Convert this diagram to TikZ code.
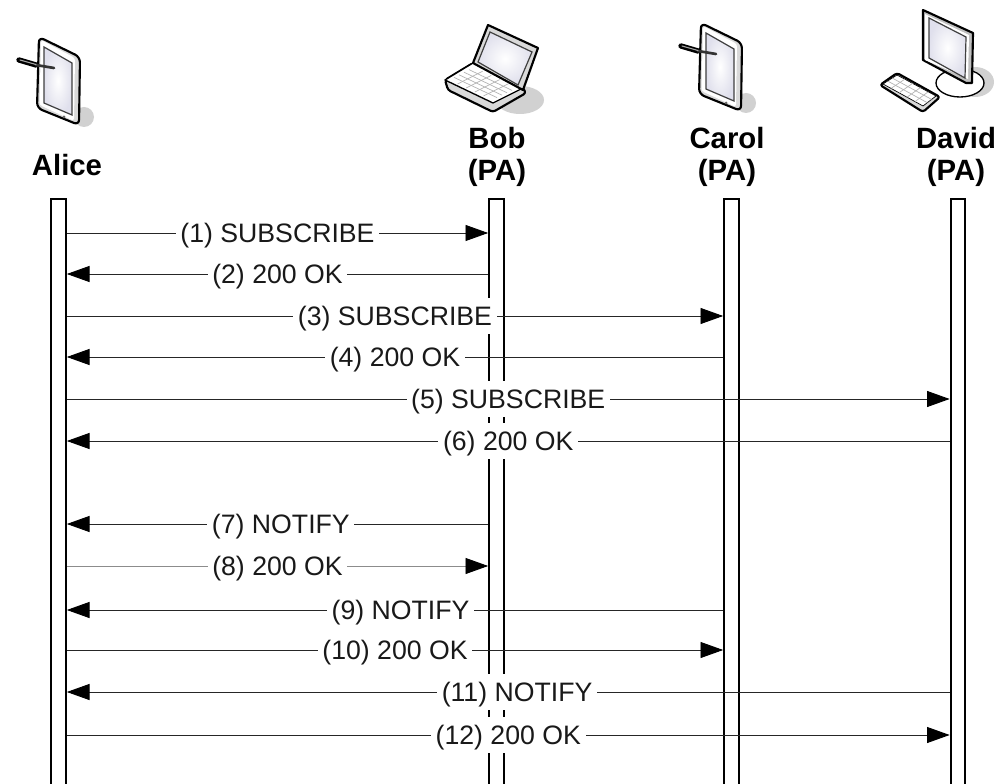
\documentclass[tikz,border=0pt]{standalone}
\usepackage{fontspec}
\setmainfont{Liberation Sans}
\usetikzlibrary{arrows.meta,positioning,calc}
\tikzset{
  lifeline/.style={draw=black,line width=1.5pt,fill=none,rectangle,anchor=north,minimum width=11pt,minimum height=480pt,inner sep=0pt},
  who/.style={font=\fontsize{22}{24}\selectfont\bfseries,inner sep=0pt,align=center},
  msg/.style={draw=black!85,line width=0.7pt,-{Triangle[length=17pt,width=12pt,color=black,fill=black]}},
  msglabel/.style={font=\fontsize{20}{22}\selectfont,fill=white,inner xsep=3.5pt,inner ysep=0pt,minimum height=27pt,text height=14.3pt,text depth=0pt,text=black!90},
  icon/.style={draw=black,line width=1pt,line join=round,fill=white},
  thickicon/.style={draw=black,line width=1.6pt,line join=round},
  scr/.style={draw=black!75,line width=0.9pt,inner color=white,outer color=blue!40!black!12!white},
  keyline/.style={draw=black!30,line width=0.5pt},
  shadowblob/.style={fill=black!18,draw=none},
  tablet/.pic={
    \fill[shadowblob] (84,117) circle (10);
    \draw[thickicon,fill=black!15,rounded corners=4] (39,37) -- (80,57) -- (79,125) -- (37,108) -- cycle;
    \fill[white,rounded corners=2] (41,40) -- (75,58) -- (74,121) -- (39.5,105) -- cycle;
    \draw[scr] (44,47) -- (72,63) -- (72,115) -- (44,103) -- cycle;
    \fill[black!60] (64,117) circle (1.5);
    \draw[black,line width=4pt,line cap=round] (19,60) -- (36,65);
    \draw[black!80,line width=2pt,line cap=round] (36,65) -- (54,68);
    \draw[black!35,line width=0.8pt,line cap=round] (20,60) -- (36,64.5);
  },
  laptopicon/.pic={
    \fill[shadowblob] (520,100) ellipse (24 and 14);
    \draw[thickicon,fill=black!15,rounded corners=2] (445,80) -- (448,90) -- (493,112) -- (526,93) -- (523,88) -- (473,63) -- cycle;
    \draw[icon] (445,80) -- (473,63) -- (523,88) -- (493,103) -- cycle;
    \foreach \t in {0.2,0.4,0.6,0.8} {
      \draw[keyline] ($(449,80)!\t!(492,100)$) -- ($(474,67)!\t!(517,88)$);
      \draw[keyline] ($(449,80)!\t!(474,67)$) -- ($(492,100)!\t!(517,88)$);
    }
    \draw[thickicon,fill=black!15] (488,25) -- (538,48) -- (523,90) -- (473,63) -- cycle;
    \draw[scr] (490,32) -- (532,52) -- (518,85) -- (478,62) -- cycle;
  },
  desktopicon/.pic={
    \fill[shadowblob] (975,82) ellipse (19 and 15);
    \draw[icon] (960,83) ellipse (24 and 14);
    \draw[thickicon,fill=black!25] (923,10) -- (973,33) -- (972,83) -- (966,83) -- (923,60) -- cycle;
    \fill[white] (925,14) -- (969,35) -- (968,79) -- (925,60) -- cycle;
    \draw[scr] (929,18) -- (966,37) -- (965,78) -- (929,58) -- cycle;
    \draw[thickicon,fill=black!15,rounded corners=2] (880,85) -- (897,73) -- (940,97) -- (923,112) -- cycle;
    \draw[icon,line width=0.5pt] (883,84) -- (897,75) -- (936,96) -- (923,106) -- cycle;
    \foreach \t in {0.2,0.4,0.6,0.8} {
      \draw[keyline] ($(883,84)!\t!(923,106)$) -- ($(897,75)!\t!(936,96)$);
    }
    \foreach \t in {0.33,0.66} {
      \draw[keyline] ($(883,84)!\t!(897,75)$) -- ($(923,106)!\t!(936,96)$);
    }
  },
}
\begin{document}
\begin{tikzpicture}[x=0.75pt,y=-0.75pt]
\useasboundingbox (0,0) rectangle (1003,784);
\clip (0,0) rectangle (1003,784);
\fill[white] (0,0) rectangle (1003,784);

\node[lifeline] (alice) at (58.5,198) {};
\node[lifeline] (bob) at (496.5,198) {};
\node[lifeline] (carol) at (731.5,198) {};
\node[lifeline] (david) at (958,198) {};

\pic {tablet};
\pic {laptopicon};
\pic[shift={(662,-14)}] {tablet};
\pic {desktopicon};

\node[who] (nalice) at (67,165) {Alice};
\node[who] (nbob) at (497,138) {Bob};
\node[who] (pbob) at (497,173) {(PA)};
\node[who] (ncarol) at (727,138) {Carol};
\node[who] (pcarol) at (727,173) {(PA)};
\node[who] (ndavid) at (956,138) {David};
\node[who] (pdavid) at (956,173) {(PA)};

\draw[msg] (alice.east |- 0,233) -- node[msglabel,midway] (m1) {(1) SUBSCRIBE} (bob.west |- 0,233);
\draw[msg] (bob.west |- 0,274) -- node[msglabel,midway] (m2) {(2) 200 OK} (alice.east |- 0,274);
\draw[msg] (alice.east |- 0,316) -- node[msglabel,midway] (m3) {(3) SUBSCRIBE} (carol.west |- 0,316);
\draw[msg] (carol.west |- 0,357) -- node[msglabel,midway] (m4) {(4) 200 OK} (alice.east |- 0,357);
\draw[msg] (alice.east |- 0,399) -- node[msglabel,midway] (m5) {(5) SUBSCRIBE} (david.west |- 0,399);
\draw[msg] (david.west |- 0,441) -- node[msglabel,midway] (m6) {(6) 200 OK} (alice.east |- 0,441);
\draw[msg] (bob.west |- 0,524) -- node[msglabel,pos=0.492] (m7) {(7) NOTIFY} (alice.east |- 0,524);
\draw[msg,draw=black!45] (alice.east |- 0,566) -- node[msglabel,midway] (m8) {(8) 200 OK} (bob.west |- 0,566);
\draw[msg] (carol.west |- 0,610) -- node[msglabel,pos=0.4916] (m9) {(9) NOTIFY} (alice.east |- 0,610);
\draw[msg] (alice.east |- 0,650) -- node[msglabel,midway] (m10) {(10) 200 OK} (carol.west |- 0,650);
\draw[msg] (david.west |- 0,692) -- node[msglabel,pos=0.49] (m11) {(11) NOTIFY} (alice.east |- 0,692);
\draw[msg] (alice.east |- 0,735) -- node[msglabel,midway] (m12) {(12) 200 OK} (david.west |- 0,735);
\end{tikzpicture}
\end{document}
